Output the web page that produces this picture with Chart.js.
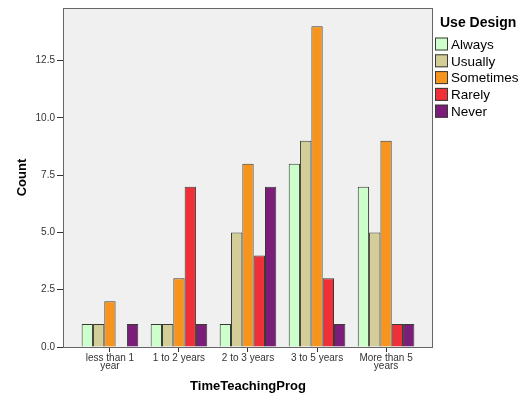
<!DOCTYPE html>
<html>
<head>
<meta charset="utf-8">
<script src="https://cdn.jsdelivr.net/npm/chart.js@4/dist/chart.umd.min.js"></script>
<style>
    html, body { margin: 0; padding: 0; background: #ffffff; }
    #chart { display: block; }
</style>
</head>
<body>
<canvas id="chart" width="529" height="396"></canvas>
<script>
// ============================================
// DATA
// ============================================

const categories = [["less than 1", "year"], "1 to 2 years", "2 to 3 years", "3 to 5 years", ["More than 5", "years"]];
const seriesNames = ["Always", "Usually", "Sometimes", "Rarely", "Never"];
const always = [1, 1, 1, 8, 7];
const usually = [1, 1, 5, 9, 5];
const sometimes = [2, 3, 8, 14, 9];
const rarely = [0, 7, 4, 3, 1];
const never = [1, 1, 7, 1, 1];
const yTicks = [0, 2.5, 5, 7.5, 10, 12.5];

// ============================================
// STYLE
// ============================================

const FONT = '"Liberation Sans", Arial, sans-serif';
const seriesColors = ["#ccffcc", "#d3ce97", "#f7941d", "#ef3038", "#7a1e7a"];
const barBorder = "#3a3a34";
const frameColor = "#666666";
const tickColor = "#333333";
const catPad = 0.18; // extra room at both ends of the category axis

// ============================================
// PLUGINS
// ============================================

// grey plot background + frame
const framePlugin = {
    id: "frame",
    beforeDatasetsDraw(chart) {
        const { ctx, chartArea: a } = chart;
        ctx.save();
        ctx.fillStyle = "#f0f0f0";
        ctx.fillRect(a.left, a.top, a.right - a.left, a.bottom - a.top);
        ctx.restore();
    },
    afterDatasetsDraw(chart) {
        const { ctx, chartArea: a } = chart;
        ctx.save();
        ctx.strokeStyle = frameColor;
        ctx.lineWidth = 1;
        ctx.strokeRect(a.left + 0.5, a.top + 0.5, a.right - a.left - 1, a.bottom - a.top);
        ctx.restore();
    },
};

// SPSS style legend on the right
const legendPlugin = {
    id: "sideLegend",
    afterDraw(chart) {
        const { ctx } = chart;
        const x0 = 435;
        ctx.save();
        ctx.fillStyle = "#000";
        ctx.textBaseline = "alphabetic";
        ctx.font = `bold 14px ${FONT}`;
        ctx.fillText("Use Design", 440, 27);
        ctx.font = `13.5px ${FONT}`;
        ctx.textBaseline = "middle";
        chart.data.datasets.forEach((ds, i) => {
            const cy = 44 + i * 16.8;
            ctx.fillStyle = ds.backgroundColor;
            ctx.fillRect(x0, cy - 6.5, 13, 13);
            ctx.strokeStyle = barBorder;
            ctx.lineWidth = 1;
            ctx.strokeRect(x0 + 0.5, cy - 6, 12, 12);
            ctx.fillStyle = "#000";
            ctx.fillText(ds.label, x0 + 16, cy + 1);
        });
        ctx.restore();
    },
};

// ============================================
// CHART
// ============================================

const seriesValues = [always, usually, sometimes, rarely, never];

new Chart(document.getElementById("chart"), {
    type: "bar",
    data: {
        labels: categories,
        datasets: seriesNames.map((name, i) => ({
            label: name,
            data: seriesValues[i],
            backgroundColor: seriesColors[i],
            borderColor: barBorder,
            borderWidth: 1,
            categoryPercentage: 0.82,
            barPercentage: 1.0,
        })),
    },
    options: {
        responsive: false,
        animation: false,
        devicePixelRatio: 1,
        layout: { padding: { top: 8, right: 96, left: 0, bottom: 0 } },
        plugins: {
            legend: { display: false },
            tooltip: { enabled: false },
        },
        scales: {
            x: {
                type: "category",
                offset: true,
                border: { display: false },
                grid: {
                    offset: false,
                    drawOnChartArea: false,
                    drawTicks: true,
                    tickLength: 5,
                    color: tickColor,
                },
                ticks: {
                    autoSkip: false,
                    maxRotation: 0,
                    padding: 2,
                    color: "#333",
                    font: { family: FONT, size: 10, lineHeight: 0.8 },
                },
                title: {
                    display: true,
                    text: "TimeTeachingProg",
                    color: "#000",
                    font: { family: FONT, size: 13, weight: "bold" },
                    padding: { top: 0, bottom: 2 },
                },
                afterBuildTicks: (axis) => {
                    axis._startValue -= catPad;
                    axis._valueRange += 2 * catPad;
                },
                afterFit: (axis) => {
                    axis.height = 49;
                },
            },
            y: {
                min: 0,
                max: 14.8,
                border: { display: false },
                grid: {
                    drawOnChartArea: false,
                    drawTicks: true,
                    tickLength: 6,
                    color: tickColor,
                },
                ticks: {
                    padding: 2,
                    color: "#333",
                    font: { family: FONT, size: 10 },
                    callback: (v) => Number(v).toFixed(1),
                },
                title: {
                    display: true,
                    text: "Count",
                    color: "#000",
                    font: { family: FONT, size: 13, weight: "bold" },
                    padding: { top: 15, bottom: 0 },
                },
                afterBuildTicks: (axis) => {
                    axis.ticks = yTicks.map((v) => ({ value: v }));
                },
                afterFit: (axis) => {
                    axis.width = 63;
                },
            },
        },
    },
    plugins: [framePlugin, legendPlugin],
});
</script>
</body>
</html>
